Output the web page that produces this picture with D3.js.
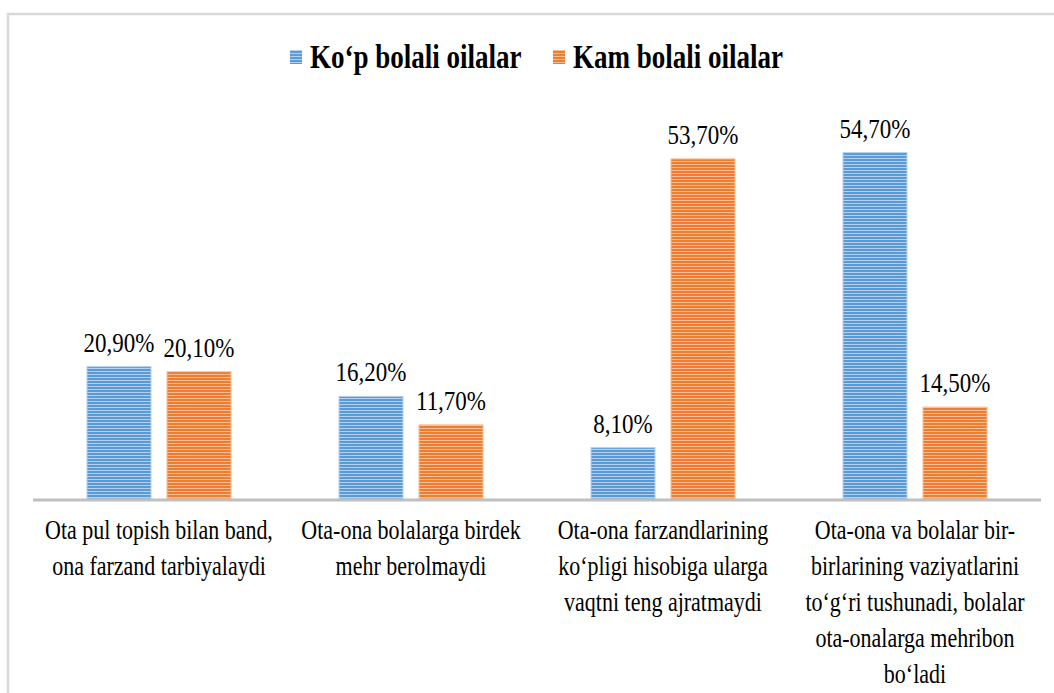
<!DOCTYPE html>
<html>
<head>
<meta charset="utf-8">
<script src="https://cdn.jsdelivr.net/npm/d3@7"></script>
<style>
  body { margin: 0; background: #fff; }
</style>
</head>
<body>
<svg id="chart" width="1054" height="693"></svg>
<script>
var categories = [
  ["Ota pul topish bilan band,", "ona farzand tarbiyalaydi"],
  ["Ota-ona bolalarga birdek", "mehr berolmaydi"],
  ["Ota-ona farzandlarining", "ko‘pligi hisobiga ularga", "vaqtni teng ajratmaydi"],
  ["Ota-ona va bolalar bir-", "birlarining vaziyatlarini", "to‘g‘ri tushunadi, bolalar", "ota-onalarga mehribon", "bo‘ladi"]
];
var seriesNames = ["Ko‘p bolali oilalar", "Kam bolali oilalar"];
var kopBolali = [20.9, 16.2, 8.1, 54.7];
var kamBolali = [20.1, 11.7, 53.7, 14.5];
var valueLabels = [
  ["20,90%", "16,20%", "8,10%", "54,70%"],
  ["20,10%", "11,70%", "53,70%", "14,50%"]
];
var colors = ["#5b9bd5", "#ed7d31"];
var lightColors = ["#b4d0ee", "#f7bd95"];
var fontFamily = "'Liberation Serif', 'Times New Roman', Times, serif";

var svg = d3.select("#chart");

// chart frame
svg.append("path")
  .attr("d", "M8,700 L8,14 L1060,14")
  .attr("fill", "none")
  .attr("stroke", "#d9d9d9")
  .attr("stroke-width", 2.5);

// striped patterns
var defs = svg.append("defs");
colors.forEach(function(c, i) {
  var p = defs.append("pattern")
    .attr("id", "stripe" + i)
    .attr("patternUnits", "userSpaceOnUse")
    .attr("width", 8).attr("height", 3);
  p.append("rect").attr("width", 8).attr("height", 3).attr("fill", c);
  p.append("rect").attr("y", 2).attr("width", 8).attr("height", 1).attr("fill", lightColors[i]);
});

var baseline = 499;
var x0 = d3.scaleBand()
  .domain(d3.range(categories.length))
  .range([33, 1041]);
var x1 = d3.scaleBand()
  .domain([0, 1])
  .range([0, 144])
  .paddingInner(0.2);
var y = d3.scaleLinear()
  .domain([0, 60])
  .range([baseline, baseline - 380]);

var series = [kopBolali, kamBolali];

var groups = svg.selectAll("g.grp")
  .data(categories)
  .enter().append("g")
  .attr("class", "grp")
  .attr("transform", function(d, i) { return "translate(" + (x0(i) + (x0.bandwidth() - 144) / 2) + ",0)"; });

groups.each(function(d, i) {
  var g = d3.select(this);
  series.forEach(function(s, k) {
    g.append("rect")
      .attr("x", x1(k))
      .attr("y", y(s[i]))
      .attr("width", x1.bandwidth())
      .attr("height", baseline - y(s[i]))
      .attr("fill", "url(#stripe" + k + ")")
      .attr("stroke", lightColors[k])
      .attr("stroke-width", 1);
    g.append("text")
      .attr("transform", "translate(" + (x1(k) + x1.bandwidth() / 2) + "," + (y(s[i]) - 15) + ") scale(1,1.2)")
      .attr("text-anchor", "middle")
      .attr("font-family", fontFamily)
      .attr("font-size", 23)
      .text(valueLabels[k][i]);
  });
});

// axis line
svg.append("line")
  .attr("x1", x0.range()[0]).attr("x2", x0.range()[1])
  .attr("y1", baseline + 1).attr("y2", baseline + 1)
  .attr("stroke", "#bfbfbf")
  .attr("stroke-width", 3);

// category labels
categories.forEach(function(lines, i) {
  var cx = x0(i) + x0.bandwidth() / 2;
  lines.forEach(function(line, j) {
    svg.append("text")
      .attr("transform", "translate(" + cx + "," + (539 + j * 36) + ") scale(1,1.2)")
      .attr("text-anchor", "middle")
      .attr("font-family", fontFamily)
      .attr("font-size", 22)
      .text(line);
  });
});

// legend
var legendItems = [{x: 290, name: seriesNames[0]}, {x: 553, name: seriesNames[1]}];
legendItems.forEach(function(it, k) {
  svg.append("rect")
    .attr("x", it.x).attr("y", 50)
    .attr("width", 12).attr("height", 14)
    .attr("fill", "url(#stripe" + k + ")");
  svg.append("text")
    .attr("transform", "translate(" + (it.x + 20) + ",68) scale(1,1.25)")
    .attr("font-family", fontFamily)
    .attr("font-size", 27)
    .attr("font-weight", "bold")
    .text(it.name);
});
</script>
</body>
</html>
